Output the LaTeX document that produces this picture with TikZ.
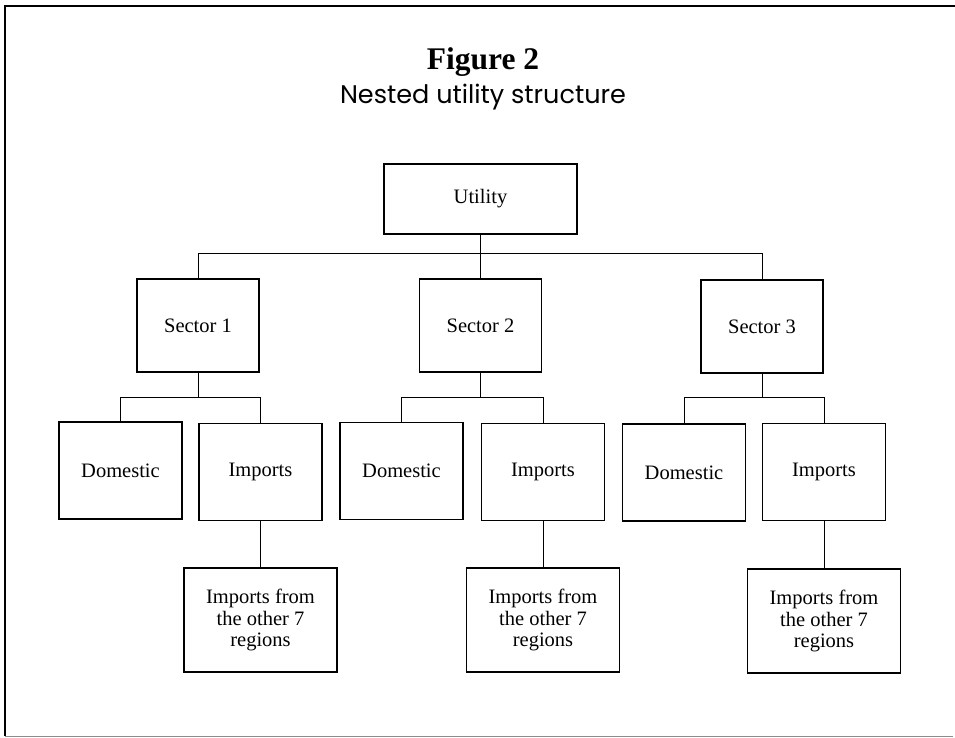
\documentclass[tikz,border=0pt]{standalone}
\usepackage{fontspec}
\setmainfont{Liberation Serif}
\newfontfamily\titlesans{Poppins}
\usetikzlibrary{positioning}

\begin{document}
\begin{tikzpicture}[
  x=1pt, y=-1pt,
  box/.style={draw, line width=1.5pt, align=center, inner sep=2pt,
              font=\fontsize{20.5}{21.5}\selectfont},
  top/.style={box, minimum width=193pt, minimum height=70pt},
  sector/.style={box, minimum width=122pt, minimum height=93pt},
  leaf/.style={box, minimum width=123pt, minimum height=97pt},
  far/.style={box, minimum width=153pt, minimum height=104pt},
  link/.style={line width=0.8pt}
]
  \useasboundingbox (0,0) rectangle (955,738);
  \draw[line width=1.2pt] (955,6) -- (5,6) -- (5,736);
  \draw[line width=1pt, black!45] (5,736) -- (953,736);

  \node[anchor=base, font=\fontsize{31.5}{33}\selectfont\bfseries] (fig) at (483,70) {Figure 2};
  \node[anchor=base, font=\fontsize{25.5}{27}\titlesans] (sub) at (483,104) {Nested utility structure};

  \node[top] (util) at (480.5,199) {Utility};

  \node[sector] (sec1) at (198,325.5) {Sector 1};
  \node[sector] (sec2) at (480.5,325.5) {Sector 2};
  \node[sector] (sec3) at (762,326.5) {Sector 3};

  \node[leaf] (dom1) at (120.5,470.5) {Domestic};
  \node[leaf] (imp1) at (260.5,472) {Imports};
  \node[leaf] (dom2) at (401.5,471) {Domestic};
  \node[leaf] (imp2) at (543,472) {Imports};
  \node[leaf] (dom3) at (684,472.5) {Domestic};
  \node[leaf] (imp3) at (824,472) {Imports};

  \node[far] (oth1) at (260.5,620) {Imports from\\the other 7\\regions};
  \node[far] (oth2) at (543,620) {Imports from\\the other 7\\regions};
  \node[far] (oth3) at (824,621) {Imports from\\the other 7\\regions};

  \draw[link] (util.south) -- ++(0,19) -| (sec1.north);
  \draw[link] (util.south) -- (sec2.north);
  \draw[link] (util.south) -- ++(0,19) -| (sec3.north);

  \draw[link] (sec1.south) -- ++(0,25) -| (dom1.north);
  \draw[link] (sec1.south) -- ++(0,25) -| (imp1.north);
  \draw[link] (sec2.south) -- ++(0,25) -| (dom2.north);
  \draw[link] (sec2.south) -- ++(0,25) -| (imp2.north);
  \draw[link] (sec3.south) -- ++(0,24) -| (dom3.north);
  \draw[link] (sec3.south) -- ++(0,24) -| (imp3.north);

  \draw[link] (imp1.south) -- (oth1.north);
  \draw[link] (imp2.south) -- (oth2.north);
  \draw[link] (imp3.south) -- (oth3.north);
\end{tikzpicture}
\end{document}
